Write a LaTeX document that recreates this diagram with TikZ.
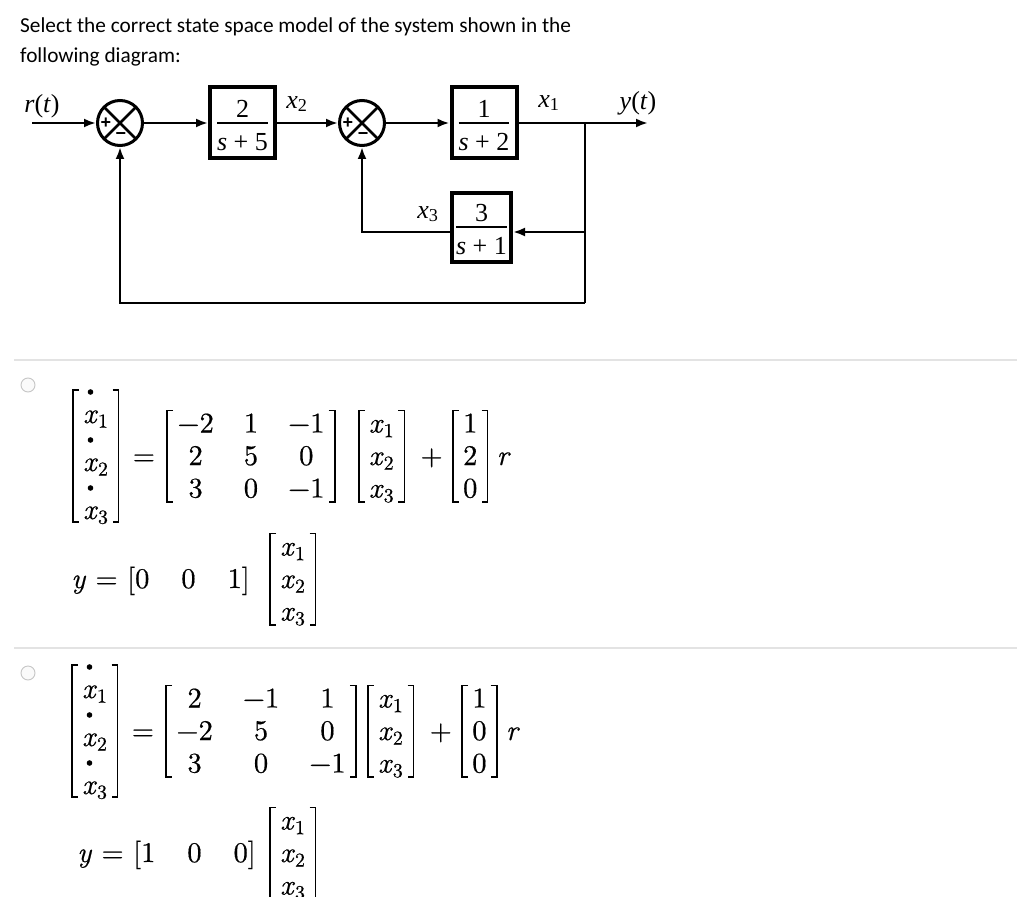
\documentclass[tikz,border=0pt]{standalone}
\usepackage{fontspec}
\usetikzlibrary{arrows.meta,positioning,matrix}
\newfontfamily\calfont{Carlito}
\newfontfamily\tnrfont{Liberation Serif}
\newfontfamily\signfont{Liberation Sans}
\newfontfamily\eqfam{lmroman10-regular.otf}[ItalicFont=lmroman10-italic.otf,FakeBold=0.5]
% fraction inside a block
\newcommand{\blockfrac}[2]{{\setlength{\arrayrulewidth}{1.3pt}%
  \begin{tabular}[t]{@{}c@{}}#1\\[-4pt]\hline\rule{0pt}{27pt}#2\end{tabular}}}
\newcommand{\eqfont}{\eqfam\fontsize{28.5}{33}\selectfont}
\newcommand{\xs}[1]{\textit{x}\textsubscript{#1}}
% square brackets round a matrix
\newcommand{\brackets}[1]{%
  \draw[brk] ([xshift=6pt]#1.north west) -- (#1.north west) -- (#1.south west) -- ([xshift=6pt]#1.south west);
  \draw[brk] ([xshift=-6pt]#1.north east) -- (#1.north east) -- (#1.south east) -- ([xshift=-6pt]#1.south east);}
\begin{document}
\begin{tikzpicture}[x=1pt,y=-1pt,
    block/.style={draw,line width=4pt,inner sep=0pt,minimum width=65pt,minimum height=71pt,
      text height=0pt,text depth=11.3pt,font=\tnrfont\fontsize{26}{30}\selectfont},
    sumjn/.style={draw,circle,line width=3pt,minimum size=45pt,inner sep=0pt,
      path picture={\draw[line width=2.6pt]
        (path picture bounding box.north west) -- (path picture bounding box.south east)
        (path picture bounding box.north east) -- (path picture bounding box.south west);}},
    pm/.style={font=\signfont\bfseries\fontsize{18}{18}\selectfont,inner sep=0pt},
    sig/.style={font=\tnrfont\fontsize{26}{30}\selectfont,inner sep=0pt},
    wire/.style={line width=2.7pt},
    arr/.style={wire,-{Latex[length=12pt,width=9pt]}},
    title/.style={font=\calfont\fontsize{21.3}{30}\selectfont,inner sep=0pt,anchor=base west},
    sepline/.style={draw=gray!22,line width=2pt},
    radio/.style={draw=gray!45,fill=gray!4,circle,line width=0.9pt,minimum size=14pt,inner sep=0pt},
    op/.style={font=\eqfont,inner sep=0pt,text height=22pt,text depth=4pt,anchor=center},
    mat/.style={matrix of nodes,nodes={op},inner xsep=10pt,inner ysep=0pt,
      row sep=6.5pt,column sep=30pt,anchor=west},
    lhs/.style={mat,nodes={text height=33pt,text depth=3pt},row sep=12pt},
    brk/.style={line width=1.6pt}]
  \useasboundingbox[fill=white] (0,0) rectangle (1024,896);

  % question
  \node[title] (q1) at (20,33) {Select the correct state space model of the system shown in the};
  \node[title] (q2) at ([shift={(0,30)}]q1.base west) {following diagram:};

  % block diagram
  \node[sumjn] (s1) at (120,123) {};
  \node[block] (b1) at (242.5,123) {\blockfrac{2}{\textit{s} + 5}};
  \node[sumjn] (s2) at (362,123) {};
  \node[block] (b2) at (484,123) {\blockfrac{1}{\textit{s} + 2}};
  \node[block,minimum width=59pt,minimum height=69pt] (b3) at (481.5,227) {\blockfrac{3}{\textit{s} + 1}};
  \foreach \s in {s1,s2} {
    \node[pm] (\s p) at ([shift={(-14,0)}]\s.center) {+};
    \node[pm] (\s m) at ([shift={(1,13)}]\s.center) {−};
  }

  \coordinate (in) at (32,123);
  \coordinate (out) at (648,123);
  \coordinate (br) at (585,123);
  \coordinate (fb) at (585,232);
  \coordinate (bot) at (585,303);

  \draw[arr] (in) -- (s1);
  \draw[arr] (s1) -- (b1);
  \draw[arr] (b1) -- (s2);
  \draw[arr] (s2) -- (b2);
  \draw[arr] (b2) -- (out);
  \draw[wire] (br) -- (bot);
  \draw[arr] (fb) -- (fb -| b3.east);
  \draw[arr] (fb -| b3.west) -| (s2);
  \draw[arr] (bot) -| (s1);

  % signal names
  \node[sig] (rlab) at (42,106) {\textit{r}(\textit{t})};
  \node[sig] (x2lab) at (297,104) {\textit{x}\textsubscript{2}};
  \node[sig] (x1lab) at (549,103) {\textit{x}\textsubscript{1}};
  \node[sig] (ylab) at (638,103) {\textit{y}(\textit{t})};
  \node[sig] (x3lab) at (428,214) {\textit{x}\textsubscript{3}};

  % answers
  \draw[sepline] (14,360) -- (1017,360);
  \draw[sepline] (14,648) -- (1017,648);
  \node[radio] (o1) at (28,385) {};
  \node[radio] (o2) at (28,673) {};

  % first answer
  \matrix[lhs] (lhsA) at (73,456) {\xs1\\ \xs2\\ \xs3\\};
  \node[op,right=14pt of lhsA] (eqA) {=};
  \matrix[mat,right=12pt of eqA] (matA) {−2 & 1 & −1\\ 2 & 5 & 0\\ 3 & 0 & −1\\};
  \matrix[mat,right=24pt of matA] (vecA) {\xs1\\ \xs2\\ \xs3\\};
  \node[op,right=16pt of vecA] (plA) {+};
  \matrix[mat,right=10pt of plA] (inA) {1\\ 2\\ 0\\};
  \node[op,right=9pt of inA] (rA) {\textit{r}};
  \matrix[mat] (xoA) at (270,579) {\xs1\\ \xs2\\ \xs3\\};
  \node[op,left=20pt of xoA] (outA) {\textit{y} = [0\hspace{32pt}0\hspace{32pt}1]};

  % second answer
  \matrix[lhs] (lhsB) at (72,731) {\xs1\\ \xs2\\ \xs3\\};
  \node[op,right=14pt of lhsB] (eqB) {=};
  \matrix[mat,right=12pt of eqB] (matB) {2 & −1 & 1\\ −2 & 5 & 0\\ 3 & 0 & −1\\};
  \matrix[mat,right=12pt of matB] (vecB) {\xs1\\ \xs2\\ \xs3\\};
  \node[op,right=16pt of vecB] (plB) {+};
  \matrix[mat,right=10pt of plB] (inB) {1\\ 0\\ 0\\};
  \node[op,right=9pt of inB] (rB) {\textit{r}};
  \matrix[mat] (xoB) at (270,853) {\xs1\\ \xs2\\ \xs3\\};
  \node[op,left=14pt of xoB] (outB) {\textit{y} = [1\hspace{32pt}0\hspace{32pt}0]};

  \foreach \m in {lhsA,matA,vecA,inA,xoA,lhsB,matB,vecB,inB,xoB} {\brackets{\m}}
  % dots over the derivatives
  \foreach \m in {lhsA,lhsB} {
    \foreach \i in {1,2,3} {\fill ([shift={(7.5,-31)}]\m-\i-1.base west) circle (2.8pt);}
  }
\end{tikzpicture}
\end{document}
